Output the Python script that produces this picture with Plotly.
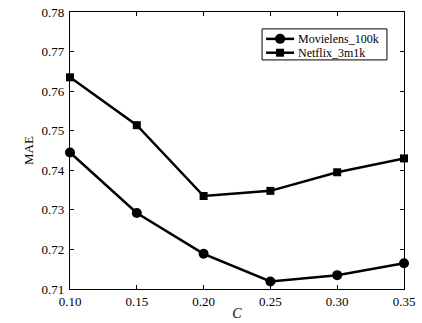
import plotly.graph_objects as go

c_values = [0.10, 0.15, 0.20, 0.25, 0.30, 0.35]
movielens_mae = [0.7445, 0.7292, 0.7189, 0.7119, 0.7135, 0.7165]
netflix_mae = [0.7635, 0.7514, 0.7335, 0.7348, 0.7395, 0.7430]
series_names = ["Movielens_100k", "Netflix_3m1k"]
x_ticks = [0.10, 0.15, 0.20, 0.25, 0.30, 0.35]
x_tick_labels = ["0.10", "0.15", "0.20", "0.25", "0.30", "0.35"]
y_ticks = [0.71, 0.72, 0.73, 0.74, 0.75, 0.76, 0.77, 0.78]
y_tick_labels = ["0.71", "0.72", "0.73", "0.74", "0.75", "0.76", "0.77", "0.78"]

FONT = "Liberation Serif"
PLOT_W, PLOT_H = 334, 277  # plotting area size in px (for legend geometry)

fig = go.Figure()
fig.add_trace(go.Scatter(
    x=c_values, y=movielens_mae, name=series_names[0],
    mode="lines+markers",
    line=dict(color="black", width=2.5),
    marker=dict(symbol="circle", size=10, color="black"),
    cliponaxis=False, showlegend=False,
))
fig.add_trace(go.Scatter(
    x=c_values, y=netflix_mae, name=series_names[1],
    mode="lines+markers",
    line=dict(color="black", width=2.5),
    marker=dict(symbol="square", size=8, color="black"),
    cliponaxis=False, showlegend=False,
))

# Compact boxed legend drawn in paper coordinates
def px_x(p):
    return p / PLOT_W

def px_y(p):
    return p / PLOT_H

box_x0, box_x1 = 0.575, 0.949
box_y0, box_y1 = 0.827, 0.939
fig.add_shape(type="rect", xref="paper", yref="paper",
              x0=box_x0, x1=box_x1, y0=box_y0, y1=box_y1,
              line=dict(color="black", width=1), fillcolor="white", layer="above")
rows = [0.903, 0.853]
seg_x0, seg_x1, mark_x = 0.587, 0.671, 0.629
for i, (name, yrow) in enumerate(zip(series_names, rows)):
    fig.add_shape(type="line", xref="paper", yref="paper",
                  x0=seg_x0, x1=seg_x1, y0=yrow, y1=yrow,
                  line=dict(color="black", width=2.5), layer="above")
    if i == 0:
        r = 5
        fig.add_shape(type="circle", xref="paper", yref="paper",
                      x0=mark_x - px_x(r), x1=mark_x + px_x(r),
                      y0=yrow - px_y(r), y1=yrow + px_y(r),
                      line=dict(color="black", width=0), fillcolor="black", layer="above")
    else:
        h = 4
        fig.add_shape(type="rect", xref="paper", yref="paper",
                      x0=mark_x - px_x(h), x1=mark_x + px_x(h),
                      y0=yrow - px_y(h), y1=yrow + px_y(h),
                      line=dict(color="black", width=0), fillcolor="black", layer="above")
    fig.add_annotation(xref="paper", yref="paper", x=0.680, y=yrow,
                       xanchor="left", yanchor="middle", showarrow=False,
                       borderpad=0,
                       text=name, font=dict(family=FONT, size=12, color="black"))

axis_common = dict(
    showgrid=False, zeroline=False, automargin=False,
    showline=True, linecolor="black", linewidth=1.2, mirror="ticks",
    ticks="inside", ticklen=4, tickwidth=1, tickcolor="black",
    tickfont=dict(family=FONT, size=13, color="black"),
)

fig.update_layout(
    width=422, height=323,
    margin=dict(l=70, r=18, t=12, b=34, autoexpand=False),
    paper_bgcolor="white", plot_bgcolor="white",
    font=dict(family=FONT, size=13, color="black"),
    xaxis=dict(
        range=[0.10, 0.35], tickvals=x_ticks, ticktext=x_tick_labels,
        title=dict(text="<i>C</i>", font=dict(family=FONT, size=14), standoff=0),
        ticklabelstandoff=0,
        **axis_common,
    ),
    yaxis=dict(
        range=[0.71, 0.78], tickvals=y_ticks, ticktext=y_tick_labels,
        title=dict(text="MAE", font=dict(family=FONT, size=13), standoff=4),
        ticklabelstandoff=2,
        **axis_common,
    ),
    showlegend=False,
)

fig.write_html("out.html")
